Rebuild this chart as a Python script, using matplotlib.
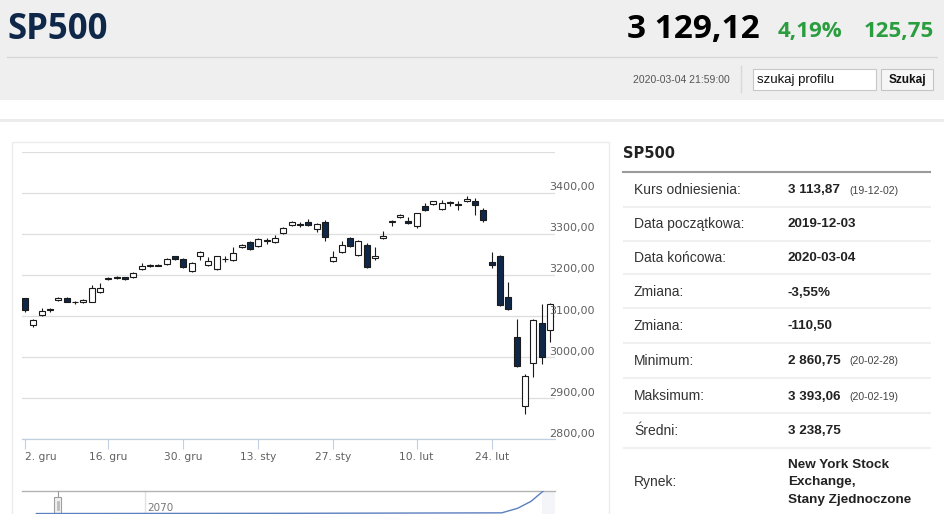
import matplotlib
matplotlib.use('Agg')
import matplotlib.pyplot as plt
from matplotlib.patches import Rectangle
import pandas as pd

# daily candles SP500, 2019-12-02 .. 2020-03-04
opens = [3143, 3078, 3102, 3116, 3139, 3143, 3134, 3133, 3135, 3159,
         3190, 3194, 3194, 3194, 3215, 3223, 3225, 3227, 3245, 3239,
         3210, 3246, 3224, 3215, 3240, 3237, 3269, 3279, 3271, 3285,
         3281, 3302, 3322, 3325, 3329, 3312, 3330, 3234, 3257, 3290,
         3249, 3273, 3241, 3290, 3328, 3341, 3332, 3318, 3368, 3373,
         3360, 3377, 3372, 3379, 3380, 3359, 3231, 3246, 3146, 3050,
         2880, 2985, 3082, 3066]
highs = [3145, 3092, 3119, 3119, 3147, 3146, 3136, 3141, 3176, 3181,
         3195, 3197, 3196, 3206, 3228, 3226, 3227, 3242, 3247, 3242,
         3231, 3259, 3243, 3247, 3245, 3268, 3276, 3283, 3289, 3290,
         3298, 3317, 3331, 3328, 3335, 3326, 3334, 3259, 3283, 3293,
         3286, 3277, 3267, 3306, 3334, 3348, 3340, 3352, 3375, 3381,
         3383, 3379, 3379, 3393, 3387, 3362, 3257, 3248, 3182, 3093,
         2958, 3092, 3129, 3131]
lows = [3110, 3074, 3100, 3109, 3137, 3133, 3129, 3131, 3133, 3155,
        3188, 3190, 3188, 3192, 3213, 3220, 3221, 3225, 3237, 3216,
        3208, 3237, 3221, 3212, 3232, 3234, 3266, 3261, 3268, 3276,
        3278, 3300, 3319, 3316, 3320, 3304, 3283, 3231, 3254, 3268,
        3245, 3217, 3237, 3288, 3318, 3338, 3323, 3315, 3355, 3371,
        3358, 3368, 3358, 3377, 3346, 3328, 3216, 3125, 3114, 2976,
        2861, 2951, 2983, 3037]
closes = [3114, 3090, 3113, 3115, 3145, 3135, 3133, 3139, 3168, 3168,
          3192, 3193, 3190, 3204, 3222, 3224, 3223, 3239, 3239, 3220,
          3229, 3257, 3234, 3245, 3238, 3253, 3273, 3263, 3287, 3283,
          3290, 3315, 3329, 3322, 3322, 3324, 3293, 3243, 3273, 3271,
          3283, 3220, 3247, 3296, 3332, 3346, 3326, 3350, 3357, 3379,
          3375, 3376, 3371, 3385, 3371, 3334, 3224, 3127, 3116, 2978,
          2954, 3090, 3001, 3129]

holidays = ['2019-12-25', '2020-01-01', '2020-01-20', '2020-02-17']
days = pd.bdate_range('2019-12-02', '2020-03-04')
days = days[~days.isin(pd.to_datetime(holidays))]

tick_dates = ['2019-12-02', '2019-12-16', '2019-12-30', '2020-01-13',
              '2020-01-27', '2020-02-10', '2020-02-24']
months_pl = {12: 'gru', 1: 'sty', 2: 'lut', 3: 'mar'}
y_ticks = [2800, 2900, 3000, 3100, 3200, 3300, 3400]

# navigator line (whole history, relative units)
nav_pos = [0.027, 0.5, 0.9, 0.93, 0.955, 0.978]
nav_level = [0.02, 0.03, 0.05, 0.25, 0.55, 1.0]
nav_label = '2070'

# header
name = 'SP500'
last_price = '3 129,12'
change_pct = '4,19%'
change_pts = '125,75'
stamp = '2020-03-04 21:59:00'

# side table
row_labels = ['Kurs odniesienia:', 'Data początkowa:', 'Data końcowa:', 'Zmiana:',
              'Zmiana:', 'Minimum:', 'Maksimum:', 'Średni:', 'Rynek:']
row_values = ['3 113,87', '2019-12-03', '2020-03-04', '-3,55%', '-110,50',
              '2 860,75', '3 393,06', '3 238,75',
              ['New York Stock', 'Exchange,', 'Stany Zjednoczone']]
row_notes = ['(19-12-02)', '', '', '', '', '(20-02-28)', '(20-02-19)', '', '']

W, H = 945, 514
NAVY = '#0f2748'
GREEN = '#2a9d3f'
SANS = ['Liberation Sans', 'DejaVu Sans']
OPEN = ['Open Sans', 'DejaVu Sans']

fig = plt.figure(figsize=(W / 100, H / 100), dpi=100)

# page layer in pixel coordinates
page = fig.add_axes([0, 0, 1, 1])
page.set_xlim(0, W)
page.set_ylim(H, 0)
page.axis('off')
page.set_zorder(0)

page.add_patch(Rectangle((0, 0), W, 99.5, color='#efefef', lw=0))
page.plot([7, 937], [57.3, 57.3], color='#d6d6d6', lw=1)
page.text(7, 30, name, family=OPEN, weight='bold', fontsize=25, color=NAVY, va='center')
page.text(760, 29, last_price, family=OPEN, weight='bold', fontsize=24, color='black',
          va='center', ha='right')
page.text(778, 32, change_pct, family=OPEN, weight='bold', fontsize=16, color=GREEN, va='center')
page.text(934, 32, change_pts, family=OPEN, weight='bold', fontsize=16, color=GREEN,
          va='center', ha='right')
page.text(730, 80, stamp, family=SANS, fontsize=7.5, color='#555555', va='center', ha='right')
page.plot([741, 741], [66, 92], color='#d8d8d8', lw=1)
page.add_patch(Rectangle((753, 68.5), 123, 21, facecolor='white', edgecolor='#c8c8c8', lw=0.8))
page.text(757, 79.5, 'szukaj profilu', family=SANS, fontsize=9.5, color='#111111', va='center')
page.add_patch(Rectangle((881, 68.5), 52, 21, facecolor='#f6f6f6', edgecolor='#c4c4c4', lw=0.8))
page.text(907, 79.5, 'Szukaj', family=SANS, fontsize=8.5, weight='bold', color='#111111',
          va='center', ha='center')
page.add_patch(Rectangle((0, 119), W, 2.7, color='#ececec', lw=0))

# chart panel frame
page.add_patch(Rectangle((12, 141.5), 597, 380, facecolor='white', edgecolor='#ececec', lw=1))

# side table
page.text(623, 154, name, family=['DejaVu Sans'], weight='bold', fontsize=10.5,
          color='#222222', va='center')
page.plot([623, 930], [171.7, 171.7], color='#9a9a9a', lw=1.5)
row_y = [190, 224, 258, 292.5, 326, 361, 396.5, 431, 482]
sep_y = [206.7, 241, 274, 308, 343, 378, 413, 448]
for y in sep_y:
    page.plot([624, 930], [y, y], color='#f0f0f0', lw=1.5)
for lab, val, note, y in zip(row_labels, row_values, row_notes, row_y):
    page.text(634, y, lab, family=SANS, fontsize=10, color='#333333', va='center')
    if isinstance(val, list):
        for k, line in enumerate(val):
            page.text(788, y + (k - 1) * 17.5, line, family=SANS, fontsize=9.7,
                      weight='bold', color='#222222', va='center')
    else:
        page.text(788, y, val, family=SANS, fontsize=9.7, weight='bold',
                  color='#222222', va='center')
    if note:
        page.text(849, y + 0.5, note, family=SANS, fontsize=7.6, color='#444444', va='center')

# candlestick chart
ax = fig.add_axes([22 / W, 1 - 439.3 / H, 533 / W, (439.3 - 151.7) / H])
ax.set_zorder(1)
ax.patch.set_alpha(0)
x = list(range(len(days)))
ax.set_xlim(-0.36, 63.6)
ax.set_ylim(2800, 3500)

ax.vlines(x, lows, highs, color='#1a1a1a', lw=0.8, zorder=2)
for i in x:
    o, c = opens[i], closes[i]
    bottom = min(o, c)
    height = max(abs(c - o), 1.2)
    face = NAVY if c < o else 'white'
    ax.bar(i, height, bottom=bottom, width=0.7, color=face, edgecolor='#1a1a1a',
           lw=0.8, zorder=3)

ax.set_yticks(y_ticks + [3500])
ax.set_yticklabels([])
ax.tick_params(axis='y', length=0)
ax.grid(axis='y', color='#dedede', lw=0.9)
ax.set_axisbelow(True)
for v in y_ticks:
    ax.annotate(f'{v},00', xy=(1, v), xycoords=('axes fraction', 'data'),
                xytext=(-6, 2.5), textcoords='offset pixels', fontsize=8,
                color='#606060', ha='left', va='baseline')

tick_idx = [list(days).index(pd.Timestamp(d)) for d in tick_dates]
tick_lab = [f'{pd.Timestamp(d).day}. {months_pl[pd.Timestamp(d).month]}' for d in tick_dates]
ax.set_xticks(tick_idx)
ax.set_xticklabels(tick_lab, fontsize=7.7, color='#606060')
ax.get_xticklabels()[0].set_horizontalalignment('left')
ax.tick_params(axis='x', length=7, width=0.8, color='#c0d0e0', pad=2)
for s in ['top', 'left', 'right']:
    ax.spines[s].set_visible(False)
ax.spines['bottom'].set_color('#c0d0e0')
ax.spines['bottom'].set_linewidth(0.9)

# navigator strip
page.plot([22, 555], [491, 491], color='#b3b3b3', lw=1, zorder=3)
page.add_patch(Rectangle((542, 491.5), 13, 23, color='#f3f5f9', lw=0))
page.plot([145, 145], [491, 514], color='#e2e2e2', lw=1)
page.text(147, 513, nav_label, fontsize=7.5, color='#777777', va='bottom')
nav = fig.add_axes([22 / W, 0, 533 / W, 23 / H])
nav.set_zorder(1)
nav.patch.set_alpha(0)
nav.set_xlim(0, 1)
nav.set_ylim(0, 1)
nav.axis('off')
nav.plot(nav_pos, nav_level, color='#5b7fbf', lw=1)
page.plot([57.5, 57.5], [491, 497], color='#999999', lw=0.8, zorder=4)
page.add_patch(Rectangle((54, 497), 7, 17, facecolor='#f0f0f0', edgecolor='#a0a0a0',
                         lw=0.8, zorder=4))
for hx in [56.5, 57.5, 58.5]:
    page.plot([hx, hx], [501, 510], color='#aaaaaa', lw=0.5, zorder=5)

fig.savefig('out.png', dpi=100)
